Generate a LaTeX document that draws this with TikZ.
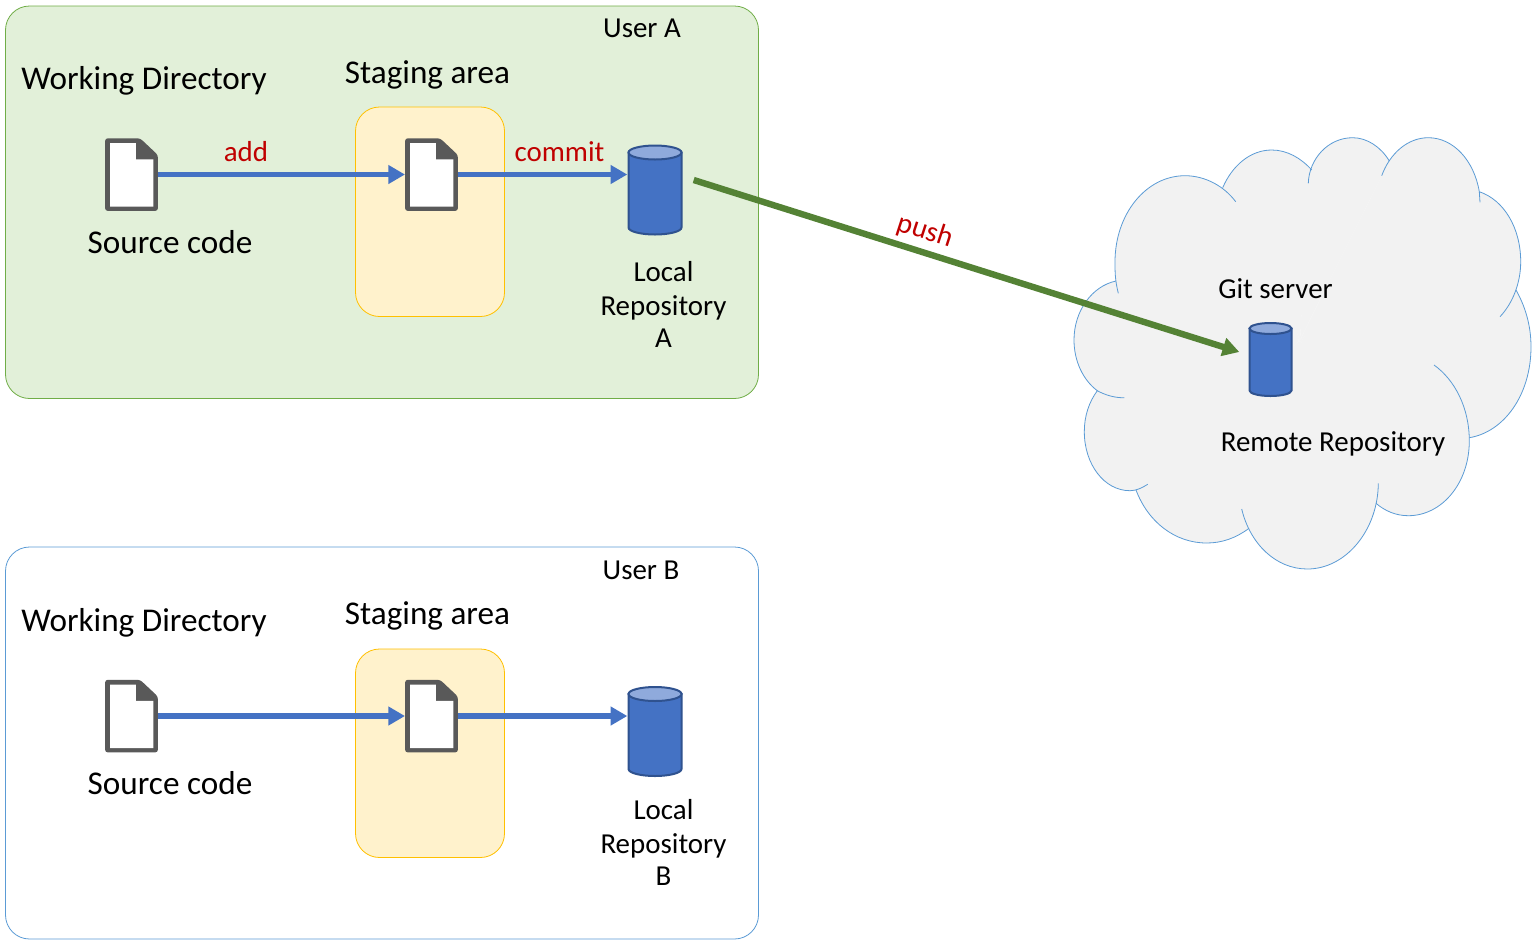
\documentclass[tikz,border=0pt]{standalone}
\usepackage{fontspec}
\setmainfont{Carlito}
\usepackage{xcolor}
\usetikzlibrary{arrows.meta}
\definecolor{greenfill}{HTML}{E2F0D9}
\definecolor{greenline}{HTML}{70AD47}
\definecolor{blueline}{HTML}{5B9BD5}
\definecolor{stagefill}{HTML}{FFF2CC}
\definecolor{stageline}{HTML}{FFC000}
\definecolor{repofill}{HTML}{4472C4}
\definecolor{repotop}{HTML}{8FAADC}
\definecolor{repoline}{HTML}{2F528F}
\definecolor{docgray}{HTML}{595959}
\definecolor{pushgreen}{HTML}{548235}
\definecolor{cmdred}{HTML}{C00000}
\definecolor{cloudfill}{HTML}{F2F2F2}
\tikzset{
    panel_a/.style = {draw=greenline, fill=greenfill, rounded corners=18pt, line width=0.6pt},
    panel_b/.style = {draw=blueline, fill=white, rounded corners=18pt, line width=0.6pt},
    stage_box/.style = {draw=stageline, fill=stagefill, rounded corners=18pt, line width=0.6pt},
    big_text/.style = {anchor=base, inner sep=0pt, font=\fontsize{24.9}{30}\selectfont},
    mid_text/.style = {anchor=base, inner sep=0pt, font=\fontsize{21.7}{24}\selectfont},
    cmd_text/.style = {mid_text, text=cmdred},
    repo_node/.style n args = {3}{inner sep=0pt, outer sep=0pt, minimum width={(2*#1+2.4)*0.75pt}, minimum height={(2*#2+3)*0.75pt},
        path picture={
            \filldraw[repoline, fill=repofill, line width=1.5pt, shift={(path picture bounding box.center)}]
                (-#1,-#2+#3) -- (-#1,#2-#3) arc[start angle=180, end angle=0, x radius=#1, y radius=#3] -- (#1,-#2+#3) -- cycle;
            \filldraw[repoline, fill=repotop, line width=1.5pt, shift={(path picture bounding box.center)}]
                (0,-#2+#3) ellipse[x radius=#1, y radius=#3];
        }},
    doc_node/.style = {inner sep=0pt, outer sep=0pt, minimum width=39.75pt, minimum height=54.75pt,
        path picture={
            \fill[docgray, rounded corners=2pt, shift={(path picture bounding box.center)}]
                (-26.4,-36.2) -- (8.6,-36.2) -- (26.4,-19.5) -- (26.4,36.4) -- (-26.4,36.4) -- cycle;
            \fill[white, shift={(path picture bounding box.center)}]
                (-21.4,-31.5) -- (4.3,-31.5) -- (4.3,-15.2) -- (21.9,-15.2) -- (21.9,32.2) -- (-21.4,32.2) -- cycle;
        }},
    flow/.style = {->, draw=repofill, line width=4.2pt},
    push_flow/.style = {->, draw=pushgreen, line width=4.8pt},
    cloud_edge/.style = {draw=blueline, line width=0.6pt}
}
\newcommand{\cloudlobes}{
    {(1118.3,293.3) .. controls (1115,280) and (1115,272) .. (1115,262) .. controls (1115,214) and (1146,175.7) .. (1185,175.7) .. controls (1205,175.7) and (1224,186) .. (1235.7,201.7)},
    {(1222.7,187.7) .. controls (1232,166) and (1250,150) .. (1271.7,150) .. controls (1287,150) and (1301,158) .. (1311.7,170)},
    {(1308.3,183.3) .. controls (1309,159) and (1328,137.7) .. (1352.7,137.7) .. controls (1367,137.7) and (1381,147) .. (1389.3,161)},
    {(1381.7,175.7) .. controls (1390,153) and (1408,137.7) .. (1428.3,137.7) .. controls (1453,137.7) and (1474,160) .. (1479.3,191.7) -- (1480,202.3)},
    {(1479.3,191.7) .. controls (1504,200) and (1520.7,228) .. (1520.7,261.7) .. controls (1520.7,284) and (1512,304) .. (1500,316.7)},
    {(1516,290) .. controls (1525,306) and (1531,325) .. (1531,346.7) .. controls (1531,395) and (1504,432) .. (1469.3,437.7)},
    {(1434,365) .. controls (1455,380) and (1469.3,408) .. (1469.3,441) .. controls (1469.3,483) and (1442,515.7) .. (1408.3,515.7) .. controls (1396,515.7) and (1385,511) .. (1376,503.3)},
    {(1378.3,483.3) .. controls (1378,530) and (1346,569) .. (1307.3,569) .. controls (1276,569) and (1250,544) .. (1241.7,509)},
    {(1249,528.3) .. controls (1236,538) and (1222,543) .. (1206.7,543) .. controls (1175,543) and (1148,522) .. (1136,490)},
    {(1147.7,484.3) .. controls (1142,488) and (1136,490.7) .. (1130,490.7) .. controls (1104,490.7) and (1084.3,464) .. (1084.3,431.7) .. controls (1084.3,416) and (1089,402) .. (1097.3,390.7)},
    {(1124.3,397.7) .. controls (1115,398) and (1105,395) .. (1097.3,390.7) .. controls (1083,380) and (1074,361) .. (1074,340) .. controls (1074,311) and (1092,286) .. (1116,281)}
}

\begin{document}
\begin{tikzpicture}[x=0.75pt, y=-0.75pt, >={Triangle[length=12.5pt,width=13.5pt]}]
    \useasboundingbox (0,0) rectangle (1532,940);

    % user panels
    \draw[panel_a] (5.5,6) rectangle (758.5,398.5);
    \draw[panel_b] (5.5,547) rectangle (758.5,939);
    \draw[stage_box] (355.5,107) rectangle (504.5,316.5);
    \draw[stage_box] (355.5,649) rectangle (504.5,857.5);

    % cloud, one lobe at a time
    \foreach \lobe in \cloudlobes {
        \fill[cloudfill] \lobe -- (1300,340) -- cycle;
    }
    \foreach \lobe in \cloudlobes {
        \draw[cloud_edge] \lobe;
    }

    % user A
    \node [doc_node] (srcA) at (131.5,174.5) {};
    \node [doc_node] (stageA) at (431.5,174.5) {};
    \node [repo_node={26.5}{44.5}{7}] (repoA) at (655,190) {};
    \draw[flow] (srcA.east) -- (stageA.west);
    \draw[flow] (stageA.east) -- (stageA.east -| repoA.west);

    % user B
    \node [doc_node] (srcB) at (131.5,716) {};
    \node [doc_node] (stageB) at (431.5,716) {};
    \node [repo_node={26.5}{44.5}{7}] (repoB) at (655,731.5) {};
    \draw[flow] (srcB.east) -- (stageB.west);
    \draw[flow] (stageB.east) -- (stageB.east -| repoB.west);

    % server
    \node [repo_node={21}{36.5}{5.5}] (remote) at (1270.5,359.5) {};
    \draw[push_flow] ([shift={(11,-10)}]repoA.east) -- ([shift={(-9,-7.5)}]remote.west);

    % labels
    \node [mid_text] (userA) at (642,37) {User A};
    \node [big_text] (workA) at (144,89) {Working Directory};
    \node [big_text] (stagingA) at (427.5,83) {Staging area};
    \node [big_text] (codeA) at (170,253) {Source code};
    \node [cmd_text] (add) at (246,161.5) {add};
    \node [cmd_text] (commit) at (559.5,161.5) {commit};
    \node [mid_text, anchor=center, align=center] (localA) at (663.5,304.5) {Local\\[2pt]Repository\\A};
    \node [mid_text] (userB) at (641,579) {User B};
    \node [big_text] (workB) at (144,631) {Working Directory};
    \node [big_text] (stagingB) at (427.5,624) {Staging area};
    \node [big_text] (codeB) at (170,794) {Source code};
    \node [mid_text, anchor=center, align=center] (localB) at (663.5,842.5) {Local\\[2pt]Repository\\B};
    \node [cmd_text, anchor=center, rotate=-18] (push) at (925,231.5) {push};
    \node [mid_text] (git) at (1275.5,298) {Git server};
    \node [mid_text] (remotetext) at (1333,451) {Remote Repository};
\end{tikzpicture}
\end{document}
